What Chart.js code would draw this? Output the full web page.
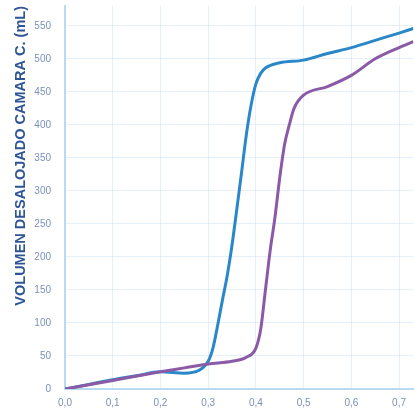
<!DOCTYPE html>
<html>
<head>
<meta charset="utf-8">
<script src="https://cdn.jsdelivr.net/npm/chart.js@4.4.0/dist/chart.umd.min.js"></script>
<style>
  html, body { margin: 0; padding: 0; background: #fff; }
  #wrap { width: 414px; height: 418px; }
</style>
</head>
<body>
<div id="wrap"><canvas id="chart"></canvas></div>
<script>
// Values
const blueX = [0, 0.05, 0.1, 0.15, 0.2, 0.25, 0.28, 0.3, 0.31, 0.32, 0.33, 0.34, 0.35, 0.36, 0.37, 0.38, 0.39, 0.4, 0.41, 0.42, 0.45, 0.5, 0.55, 0.6, 0.65, 0.7, 0.73];
const blueY = [0, 7, 14, 20, 26, 24, 28, 42, 62, 97, 135, 172, 218, 272, 328, 385, 430, 462, 478, 486, 494, 498, 508, 517, 528, 539, 546];
const purpleX = [0, 0.1, 0.2, 0.25, 0.3, 0.35, 0.38, 0.4, 0.41, 0.42, 0.43, 0.44, 0.45, 0.46, 0.47, 0.48, 0.5, 0.55, 0.6, 0.65, 0.7, 0.73];
const purpleY = [0, 13, 26, 32, 38, 42, 48, 62, 90, 150, 210, 260, 320, 370, 400, 425, 445, 458, 475, 500, 517, 526];

const yTitle = 'VOLUMEN DESALOJADO CAMARA C. (mL)';

const toPoints = (xs, ys) => xs.map((x, i) => ({ x, y: ys[i] }));

new Chart(document.getElementById('chart'), {
  type: 'line',
  data: {
    datasets: [
      {
        label: 'B',
        data: toPoints(purpleX, purpleY),
        borderColor: '#8b5aa6',
        borderWidth: 3,
        pointRadius: 0,
        cubicInterpolationMode: 'monotone',
        fill: false
      },
      {
        label: 'A',
        data: toPoints(blueX, blueY),
        borderColor: '#2a88c9',
        borderWidth: 3,
        pointRadius: 0,
        cubicInterpolationMode: 'monotone',
        fill: false
      }
    ]
  },
  options: {
    responsive: true,
    maintainAspectRatio: false,
    animation: false,
    layout: { padding: { top: 5, right: 0, left: 12, bottom: 0 } },
    plugins: { legend: { display: false }, tooltip: { enabled: false } },
    scales: {
      x: {
        type: 'linear',
        min: 0,
        max: 0.73,
        afterFit: s => { s.height = 29; },
        border: { color: '#b9dbf2', width: 2 },
        grid: { color: 'rgba(205, 228, 245, 0.55)', drawTicks: false },
        ticks: {
          stepSize: 0.1,
          includeBounds: false,
          padding: 8,
          color: '#7a90b8',
          font: { family: 'Liberation Sans', size: 10 },
          callback: v => v.toFixed(1).replace('.', ',')
        }
      },
      y: {
        min: 0,
        max: 580,
        afterFit: s => { s.width = 53; },
        border: { color: '#b9dbf2', width: 2 },
        grid: { color: 'rgba(205, 228, 245, 0.55)', drawTicks: true, tickLength: 14, tickColor: 'rgba(0,0,0,0)' },
        ticks: {
          stepSize: 50,
          includeBounds: false,
          padding: 0,
          color: '#7a90b8',
          font: { family: 'Liberation Sans', size: 10 }
        },
        title: {
          display: true,
          text: yTitle,
          align: 'end',
          color: '#2f5597',
          padding: { top: 0, bottom: 4 },
          font: { family: 'Liberation Sans', size: 14.5, weight: 'bold' }
        }
      }
    }
  }
});
</script>
</body>
</html>
